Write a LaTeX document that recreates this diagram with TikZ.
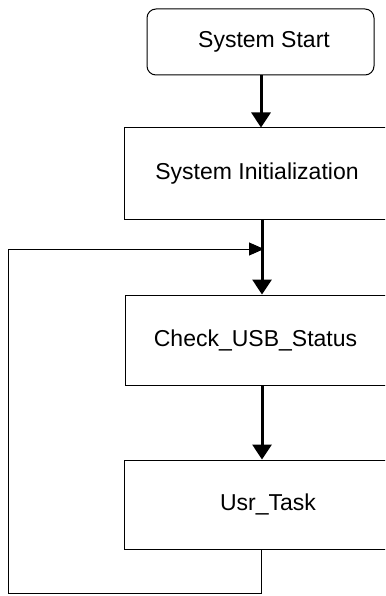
\documentclass[tikz,border=0pt]{standalone}
\usepackage{fontspec}
\setmainfont{Liberation Sans}
\usetikzlibrary{arrows.meta}
\begin{document}
\begin{tikzpicture}[x=1pt,y=-1pt,
  box/.style={draw=black,line width=1pt,inner sep=0pt,font=\fontsize{23}{27}\selectfont},
  flow/.style={line width=3pt,-{Triangle[length=15pt,width=19pt]}},
  loopline/.style={line width=1pt}]
\useasboundingbox (0,0) rectangle (385,596);
\clip (0,0) rectangle (385,596);
\node[box,rounded corners=9pt,minimum width=227pt,minimum height=66pt] (start) at (260.5,42) {\hspace*{7pt}System Start};
\node[box,minimum width=262pt,minimum height=91pt] (init) at (255,173.5) {\hspace*{4pt}System Initialization};
\node[box,minimum width=261pt,minimum height=90pt] (check) at (255.5,340) {Check\_USB\_Status};
\node[box,minimum width=262pt,minimum height=89pt] (usr) at (255,504.5) {\hspace*{26pt}Usr\_Task};
\coordinate (j) at (262,249);
\coordinate (bl) at (8,593);
\draw[flow] (start.south -| 261,0) -- (init.north -| 261,0);
\draw[flow] (init.south -| 262,0) -- (check.north -| 262,0);
\draw[flow] (check.south -| 262,0) -- (usr.north -| 262,0);
\draw[loopline,-{Triangle[length=15pt,width=13pt]}] (usr.south -| 261,0) -- (261,593) -- (bl) -- (8,249) -- ([xshift=2pt]j);
\end{tikzpicture}
\end{document}
